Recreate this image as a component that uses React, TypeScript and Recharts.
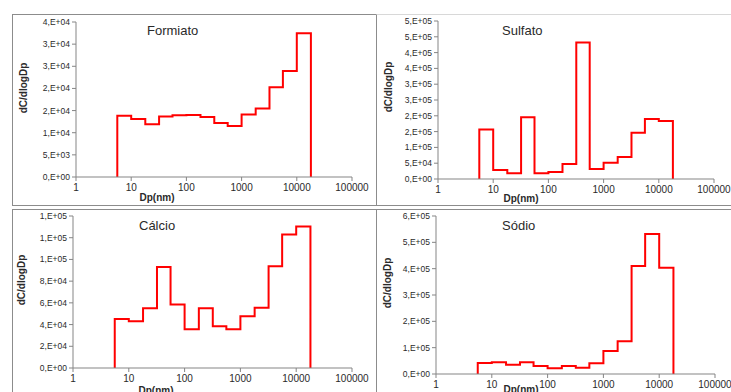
import React from "react";
import { LineChart, Line, XAxis, YAxis } from "recharts";

// bin edges of the impactor stages (nm)
const binEdges = [5.6, 10, 18, 32, 56, 100, 180, 320, 560, 1000, 1800, 3200, 5600, 10000, 18000];

const formiato = [13850, 13100, 11900, 13650, 13950, 14000, 13550, 12200, 11500, 14100, 15450, 20250, 23950, 32450];
const sulfato = [156800, 28400, 17900, 195800, 17900, 22100, 47400, 431600, 31600, 51600, 69500, 146300, 189500, 183200];
const calcio = [45200, 43000, 55000, 93100, 58600, 35700, 55000, 38500, 35700, 47600, 55600, 93700, 123000, 130400];
const sodio = [41800, 44300, 35400, 44300, 30400, 21500, 30400, 24000, 40500, 87300, 124000, 410000, 531600, 403800];

const xTicks = [1, 10, 100, 1000, 10000, 100000];
const formiatoTicks = [0, 5000, 10000, 15000, 20000, 25000, 30000, 35000];
const sulfatoTicks = [0, 50000, 100000, 150000, 200000, 250000, 300000, 350000, 400000, 450000, 500000];
const calcioTicks = [0, 20000, 40000, 60000, 80000, 100000, 120000, 140000];
const sodioTicks = [0, 100000, 200000, 300000, 400000, 500000, 600000];

const FONT = "'Liberation Sans', Arial, sans-serif";
const AXIS = "#858585";
const TEXT = "#2a2a2a";

// step outline: rise at first edge, flat over each bin, drop at last edge
function toSteps(values: number[]) {
  const pts = [{ dp: binEdges[0], c: 0 }];
  values.forEach((v, i) => pts.push({ dp: binEdges[i], c: v }));
  pts.push({ dp: binEdges[binEdges.length - 1], c: 0 });
  return pts;
}

function sci(v: number) {
  if (v === 0) return "0,E+00";
  let e = Math.floor(Math.log10(v));
  let m = Math.round(v / Math.pow(10, e));
  if (m === 10) {
    m = 1;
    e += 1;
  }
  return `${m},E+${String(e).padStart(2, "0")}`;
}

interface PanelProps {
  title: string;
  values: number[];
  yTicks: number[];
  box: { left: number; top: number; width: number; height: number };
  plot: { x0: number; x1: number; y0: number; y1: number };
  titlePos: [number, number];
  yLabel: [number, number];
  xLabel: [number, number];
  topBorder: string;
}

function Panel({ title, values, yTicks, box, plot, titlePos, yLabel, xLabel, topBorder }: PanelProps) {
  const w = 731 - box.left;
  const h = plot.y1 - box.top + 30;
  return (
    <>
      <div
        style={{
          position: "absolute",
          left: box.left,
          top: box.top,
          width: box.width,
          height: box.height,
          borderLeft: "1px solid #8c8c8c",
          borderBottom: "1px solid #8c8c8c",
          borderTop: `1px solid ${topBorder}`,
          boxSizing: "border-box",
        }}
      />
      <div style={{ position: "absolute", left: box.left, top: box.top }}>
        <LineChart
          width={w}
          height={h}
          data={toSteps(values)}
          margin={{ top: plot.y0 - box.top, right: w - (plot.x1 - box.left), bottom: 0, left: 0 }}
        >
          <XAxis
            dataKey="dp"
            type="number"
            scale="log"
            domain={[1, 100000]}
            ticks={xTicks}
            height={30}
            stroke={AXIS}
            tickSize={4}
            tickMargin={3}
            tick={{ fontSize: 10, fill: TEXT, fontFamily: FONT }}
            interval={0}
          />
          <YAxis
            type="number"
            domain={[0, yTicks[yTicks.length - 1]]}
            ticks={yTicks}
            width={plot.x0 - box.left}
            stroke={AXIS}
            tickSize={4}
            tickMargin={2}
            tickFormatter={sci}
            tick={{ fontSize: 8.5, fill: TEXT, fontFamily: FONT }}
            interval={0}
          />
          <Line
            type="stepAfter"
            dataKey="c"
            stroke="#ff0000"
            strokeWidth={2}
            dot={false}
            isAnimationActive={false}
          />
        </LineChart>
      </div>
      <div
        style={{
          position: "absolute",
          left: titlePos[0],
          top: titlePos[1],
          fontSize: 13,
          lineHeight: 1,
          color: TEXT,
          fontFamily: FONT,
          whiteSpace: "nowrap",
        }}
      >
        {title}
      </div>
      <div
        style={{
          position: "absolute",
          left: yLabel[0],
          top: yLabel[1],
          transform: "translate(-50%, -50%) rotate(-90deg)",
          fontSize: 10,
          fontWeight: "bold",
          lineHeight: 1,
          color: TEXT,
          fontFamily: FONT,
          whiteSpace: "nowrap",
        }}
      >
        dC/dlogDp
      </div>
      <div
        style={{
          position: "absolute",
          left: xLabel[0],
          top: xLabel[1],
          transform: "translateX(-50%)",
          fontSize: 10,
          fontWeight: "bold",
          lineHeight: 1,
          color: TEXT,
          fontFamily: FONT,
          whiteSpace: "nowrap",
        }}
      >
        Dp(nm)
      </div>
    </>
  );
}

export default function App() {
  return (
    <div
      style={{
        position: "fixed",
        left: 0,
        top: 0,
        width: 731,
        height: 392,
        overflow: "hidden",
        background: "#fff",
      }}
    >
      <Panel
        title="Formiato"
        values={formiato}
        yTicks={formiatoTicks}
        box={{ left: 12, top: 14, width: 365, height: 192 }}
        plot={{ x0: 76, x1: 352, y0: 22, y1: 177 }}
        titlePos={[147, 24]}
        yLabel={[24, 88]}
        xLabel={[157, 193]}
        topBorder="#8c8c8c"
      />
      <Panel
        title="Sulfato"
        values={sulfato}
        yTicks={sulfatoTicks}
        box={{ left: 376, top: 14, width: 360, height: 192 }}
        plot={{ x0: 438, x1: 714, y0: 21, y1: 179 }}
        titlePos={[502, 24]}
        yLabel={[389, 87]}
        xLabel={[521, 194]}
        topBorder="#d8d8d8"
      />
      <Panel
        title="Cálcio"
        values={calcio}
        yTicks={calcioTicks}
        box={{ left: 12, top: 209, width: 365, height: 190 }}
        plot={{ x0: 73, x1: 352, y0: 216, y1: 368 }}
        titlePos={[139, 219]}
        yLabel={[22, 280]}
        xLabel={[156, 386]}
        topBorder="#8c8c8c"
      />
      <Panel
        title="Sódio"
        values={sodio}
        yTicks={sodioTicks}
        box={{ left: 376, top: 209, width: 360, height: 190 }}
        plot={{ x0: 436, x1: 715, y0: 216, y1: 374 }}
        titlePos={[502, 219]}
        yLabel={[388, 283]}
        xLabel={[521, 385]}
        topBorder="#8c8c8c"
      />
    </div>
  );
}
